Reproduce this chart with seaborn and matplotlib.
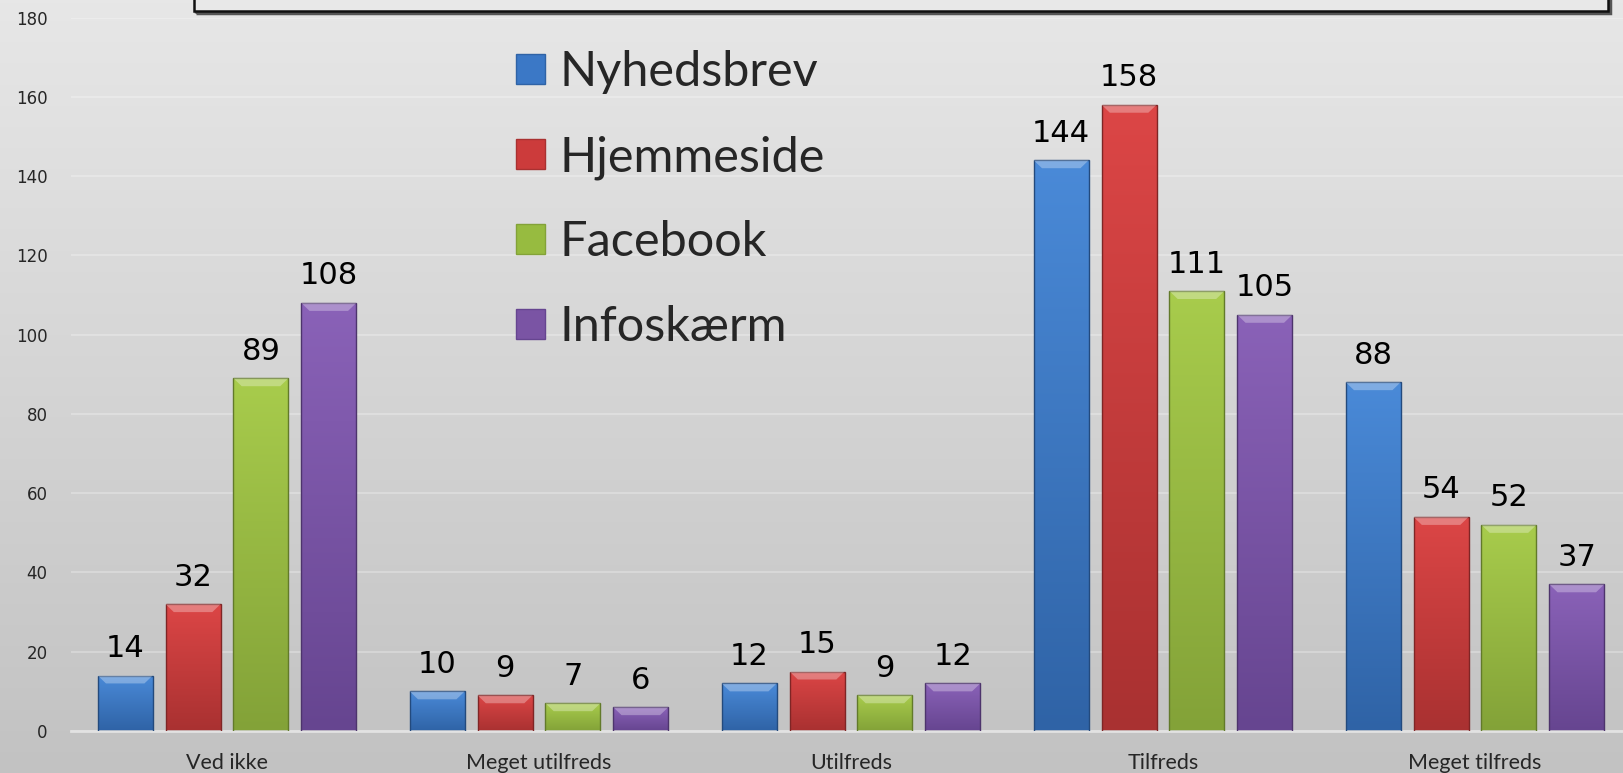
import numpy as np
import pandas as pd
import matplotlib
matplotlib.use("Agg")
import matplotlib.pyplot as plt
import seaborn as sns
from matplotlib.patches import Patch, Rectangle, Polygon
from matplotlib.colors import LinearSegmentedColormap, to_rgb

categories = ["Ved ikke", "Meget utilfreds", "Utilfreds", "Tilfreds", "Meget tilfreds"]
series_names = ["Nyhedsbrev", "Hjemmeside", "Facebook", "Infoskærm"]
nyhedsbrev = [14, 10, 12, 144, 88]
hjemmeside = [32, 9, 15, 158, 54]
facebook = [89, 7, 9, 111, 52]
infoskaerm = [108, 6, 12, 105, 37]
y_ticks = [0, 20, 40, 60, 80, 100, 120, 140, 160, 180]

colors = ["#3b78c6", "#cc3b3b", "#97bb40", "#7a54a4"]
top_cols = ["#4a8ad8", "#dc4646", "#a8cc4c", "#8a62b8"]
bot_cols = ["#2f63a6", "#a93131", "#83a238", "#664590"]

df = pd.DataFrame({
    "cat": categories * 4,
    "series": sum([[s] * 5 for s in series_names], []),
    "val": nyhedsbrev + hjemmeside + facebook + infoskaerm,
})

sns.set_theme(style="white")
W, H = 1624, 773
fig = plt.figure(figsize=(W / 100, H / 100), dpi=100)

# background gradient
bg = fig.add_axes([0, 0, 1, 1], zorder=-10)
grad = np.linspace(0, 1, 256).reshape(-1, 1)
bgcmap = LinearSegmentedColormap.from_list("bg", ["#e7e7e7", "#c2c2c2"])
bg.imshow(grad, aspect="auto", cmap=bgcmap, extent=[0, 1, 0, 1], origin="upper")
bg.set_axis_off()

# title box (cut off at top)
fig.patches.append(Rectangle((196 / W, 1 - 13 / H), (1610 - 196) / W, 0.2,
                             transform=fig.transFigure, facecolor="none",
                             edgecolor="#555555", linewidth=2.5, zorder=1))
fig.patches.append(Rectangle((194 / W, 1 - 11 / H), (1608 - 194) / W, 0.2,
                             transform=fig.transFigure, facecolor="#e8e8e8",
                             edgecolor="#111111", linewidth=1.8, zorder=2))

ax = fig.add_axes([71 / W, 42 / H, 1560 / W, (731 - 17.6) / H])
ax.patch.set_alpha(0)

sns.barplot(data=df, x="cat", y="val", hue="series", order=categories,
            hue_order=series_names, palette=colors, width=0.87, gap=0.19,
            ax=ax, legend=False, saturation=1, edgecolor="none")

ax.set_ylim(0, 180)
ax.set_xlim(-0.5, 4.5)

# gradient fill for bars
for i, cont in enumerate(ax.containers):
    cmap = LinearSegmentedColormap.from_list(f"b{i}", [top_cols[i], bot_cols[i]])
    for p in cont.patches:
        x0, y0 = p.get_x(), p.get_y()
        w, h = p.get_width(), p.get_height()
        im = ax.imshow(grad, aspect="auto", cmap=cmap, origin="upper",
                       extent=[x0, x0 + w, y0, y0 + h], zorder=2)
        im.set_clip_path(p)
        p.set_facecolor("none")
        p.set_edgecolor(tuple(np.array(to_rgb(bot_cols[i])) * 0.75))
        p.set_linewidth(1.0)
        p.set_zorder(3)
        # top bevel highlight (trapezoid)
        bh = min(h * 0.5, 2.0)
        d = w * 0.15
        top = y0 + h
        ax.add_patch(Polygon([(x0, top), (x0 + w, top), (x0 + w - d, top - bh),
                              (x0 + d, top - bh)], closed=True, facecolor="white",
                             alpha=0.3, edgecolor="none", zorder=3))
    ax.bar_label(cont, labels=[str(int(v)) for v in cont.datavalues],
                 padding=9, fontsize=22, color="black",
                 fontfamily="DejaVu Sans")

ax.set_aspect("auto")
ax.set_ylim(0, 180)
ax.set_xlim(-0.5, 4.5)

ax.set_yticks(y_ticks)
ax.set_yticklabels([str(t) for t in y_ticks], fontsize=12, fontfamily="DejaVu Sans")
ax.tick_params(axis="y", length=0, pad=17)
ax.tick_params(axis="x", length=0, pad=16)
for lab in ax.get_xticklabels():
    lab.set_fontfamily("Lato")
    lab.set_fontsize(15.5)
ax.set_xlabel("")
ax.set_ylabel("")
ax.grid(axis="y", color="white", alpha=0.25, linewidth=1.5)
ax.set_axisbelow(True)
for s in ["top", "right", "left"]:
    ax.spines[s].set_visible(False)
ax.spines["bottom"].set_color("#e2e2e2")
ax.spines["bottom"].set_linewidth(2)

handles = [Patch(facecolor=colors[i], edgecolor=bot_cols[i], label=series_names[i])
           for i in range(4)]
leg = ax.legend(handles=handles, loc="upper left",
                bbox_to_anchor=(492 / W, 1 - 26 / H), bbox_transform=fig.transFigure,
                frameon=False, prop={"family": "Lato", "size": 35},
                handlelength=0.58, handleheight=0.58, handletextpad=0.3,
                labelspacing=0.84, borderpad=0)

fig.savefig("out.png", dpi=100)
